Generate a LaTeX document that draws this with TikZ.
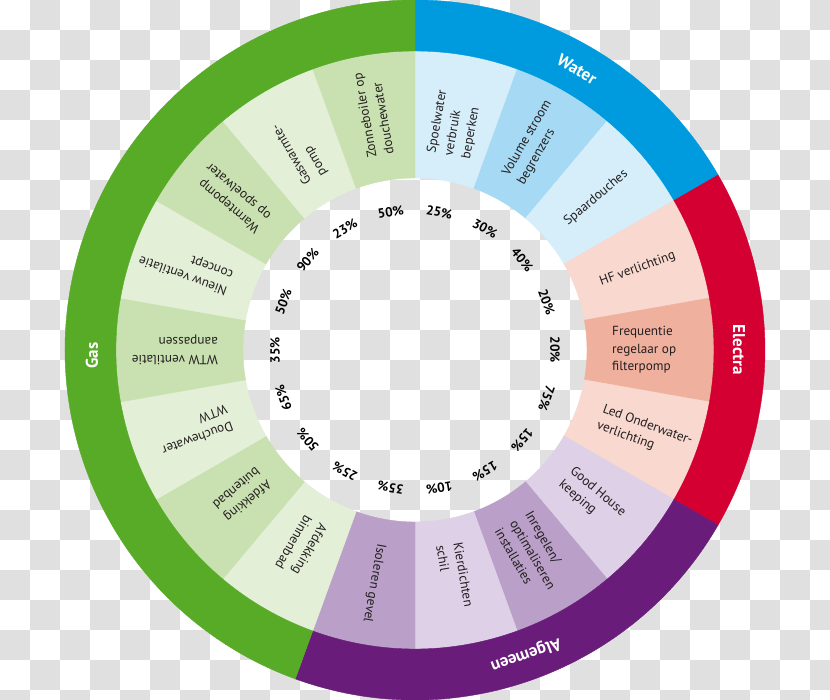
\documentclass[tikz,border=0pt]{standalone}
\usepackage{fontspec}
\setmainfont{PT Sans}
\definecolor{checkgray}{RGB}{224,224,224}
\definecolor{gasband}{RGB}{88,171,39}
\definecolor{waterband}{RGB}{0,155,222}
\definecolor{electraband}{RGB}{213,0,50}
\definecolor{algband}{RGB}{106,28,122}
\definecolor{wlight}{RGB}{214,237,250}
\definecolor{wmid}{RGB}{166,218,244}
\definecolor{elight}{RGB}{248,216,207}
\definecolor{emid}{RGB}{240,176,158}
\definecolor{alight}{RGB}{222,208,230}
\definecolor{amid}{RGB}{186,160,200}
\definecolor{glight}{RGB}{228,239,215}
\definecolor{gmid}{RGB}{201,225,176}
\definecolor{labelcol}{RGB}{35,31,32}
\newcommand{\ringsector}[5]{\filldraw[fill=#1,draw=#1,line width=0.4pt] (#2:#4pt) arc[start angle=#2,end angle=#3,radius=#4pt] -- (#3:#5pt) arc[start angle=#3,end angle=#2,radius=#5pt] -- cycle;}
\tikzset{
  lbl/.style={font=\fontsize{13.2}{17.5}\selectfont, text=labelcol, anchor=west, inner sep=0pt, align=left},
  pct/.style={font=\bfseries\fontsize{13.2}{15}\selectfont, text=black, inner sep=0pt},
  band/.style={font=\bfseries\fontsize{17}{20}\selectfont, text=white, inner sep=0pt}
}
\begin{document}
\begin{tikzpicture}[x=1pt,y=1pt]
\useasboundingbox (-415,-350) rectangle (415,350);
\fill[white] (-415,-350) rectangle (415,350);
\begin{scope}
\clip (-415,-350) rectangle (415,350);
\foreach \i in {0,...,27}{\foreach \j in {0,...,23}{%
  \pgfmathtruncatemacro{\s}{\i+\j}%
  \ifodd\s \fill[checkgray] ({30*\i-415},{350-30*\j}) rectangle ({30*\i-385},{320-30*\j});\fi
}}
\end{scope}
% segments
\ringsector{wlight}{90}{70}{172}{300}
\ringsector{wmid}{70}{50}{172}{300}
\ringsector{wlight}{50}{30}{172}{300}
\ringsector{elight}{30}{10}{172}{300}
\ringsector{emid}{10}{-10}{172}{300}
\ringsector{elight}{-10}{-30}{172}{300}
\ringsector{alight}{-30}{-50}{172}{300}
\ringsector{amid}{-50}{-70}{172}{300}
\ringsector{alight}{-70}{-90}{172}{300}
\ringsector{amid}{-90}{-110}{172}{300}
\ringsector{glight}{-110}{-130}{172}{300}
\ringsector{gmid}{-130}{-150}{172}{300}
\ringsector{glight}{-150}{-170}{172}{300}
\ringsector{gmid}{-170}{-190}{172}{300}
\ringsector{glight}{-190}{-210}{172}{300}
\ringsector{gmid}{-210}{-230}{172}{300}
\ringsector{glight}{-230}{-250}{172}{300}
\ringsector{gmid}{-250}{-270}{172}{300}
% bands
\ringsector{waterband}{90}{30}{299}{350}
\ringsector{electraband}{30}{-30}{299}{350}
\ringsector{algband}{-30}{-110}{299}{350}
\ringsector{gasband}{-110}{-270}{299}{350}
% band labels
\node[band, rotate=-30] (water) at (60:324pt) {Water};
\node[band, rotate=-90] (electra) at (0:324pt) {Electra};
\node[band, rotate=-160] (algemeen) at (-70:324pt) {Algemeen};
\node[band, rotate=90] (gas) at (181:323pt) {Gas};
% segment labels
\node[lbl, rotate=80] (l0) at (80:197pt) {Spoelwater\\verbruik\\beperken};
\node[lbl, rotate=60] (l1) at (60:197pt) {Volume stroom\\begrenzers};
\node[lbl, rotate=40] (l2) at (40:197pt) {Spaardouches};
\node[lbl, rotate=20] (l3) at (20:197pt) {HF verlichting};
\node[lbl, rotate=0] (l4) at (0:197pt) {Frequentie\\regelaar op\\filterpomp};
\node[lbl, rotate=-20] (l5) at (-20:197pt) {Led Onderwater-\\verlichting};
\node[lbl, rotate=-40] (l6) at (-40:197pt) {Good House\\keeping};
\node[lbl, rotate=-60] (l7) at (-60:197pt) {Inregelen/\\optimaliseren\\installaties};
\node[lbl, rotate=-80] (l8) at (-80:197pt) {Kierdichten\\schil};
\node[lbl, rotate=-100] (l9) at (-100:197pt) {Isoleren gevel};
\node[lbl, rotate=-120] (l10) at (-120:197pt) {Afdekking\\binnenbad};
\node[lbl, rotate=-140] (l11) at (-140:197pt) {Afdekking\\buitenbad};
\node[lbl, rotate=-160] (l12) at (-160:197pt) {Douchewater\\WTW};
\node[lbl, rotate=180] (l13) at (180:197pt) {WTW ventilatie\\aanpassen};
\node[lbl, rotate=160] (l14) at (160:197pt) {Nieuw ventilatie\\concept};
\node[lbl, rotate=140] (l15) at (140:197pt) {Warmtepomp\\op spoelwater};
\node[lbl, rotate=120] (l16) at (120:197pt) {Gaswarmte-\\pomp};
\node[lbl, rotate=100] (l17) at (100:197pt) {Zonneboiler op\\douchewater};
% percentages
\node[pct, rotate=-10] (p0) at (80:140pt) {25\%};
\node[pct, rotate=-30] (p1) at (60:140pt) {30\%};
\node[pct, rotate=-50] (p2) at (40:140pt) {40\%};
\node[pct, rotate=-70] (p3) at (20:140pt) {20\%};
\node[pct, rotate=-90] (p4) at (0:140pt) {20\%};
\node[pct, rotate=-110] (p5) at (-20:140pt) {75\%};
\node[pct, rotate=-130] (p6) at (-40:140pt) {15\%};
\node[pct, rotate=-150] (p7) at (-60:140pt) {15\%};
\node[pct, rotate=-170] (p8) at (-80:140pt) {10\%};
\node[pct, rotate=170] (p9) at (-100:140pt) {35\%};
\node[pct, rotate=150] (p10) at (-120:140pt) {25\%};
\node[pct, rotate=130] (p11) at (-140:140pt) {50\%};
\node[pct, rotate=110] (p12) at (-160:140pt) {65\%};
\node[pct, rotate=90] (p13) at (180:140pt) {35\%};
\node[pct, rotate=70] (p14) at (160:140pt) {50\%};
\node[pct, rotate=50] (p15) at (140:140pt) {90\%};
\node[pct, rotate=30] (p16) at (120:140pt) {23\%};
\node[pct, rotate=10] (p17) at (100:140pt) {50\%};
\end{tikzpicture}
\end{document}
